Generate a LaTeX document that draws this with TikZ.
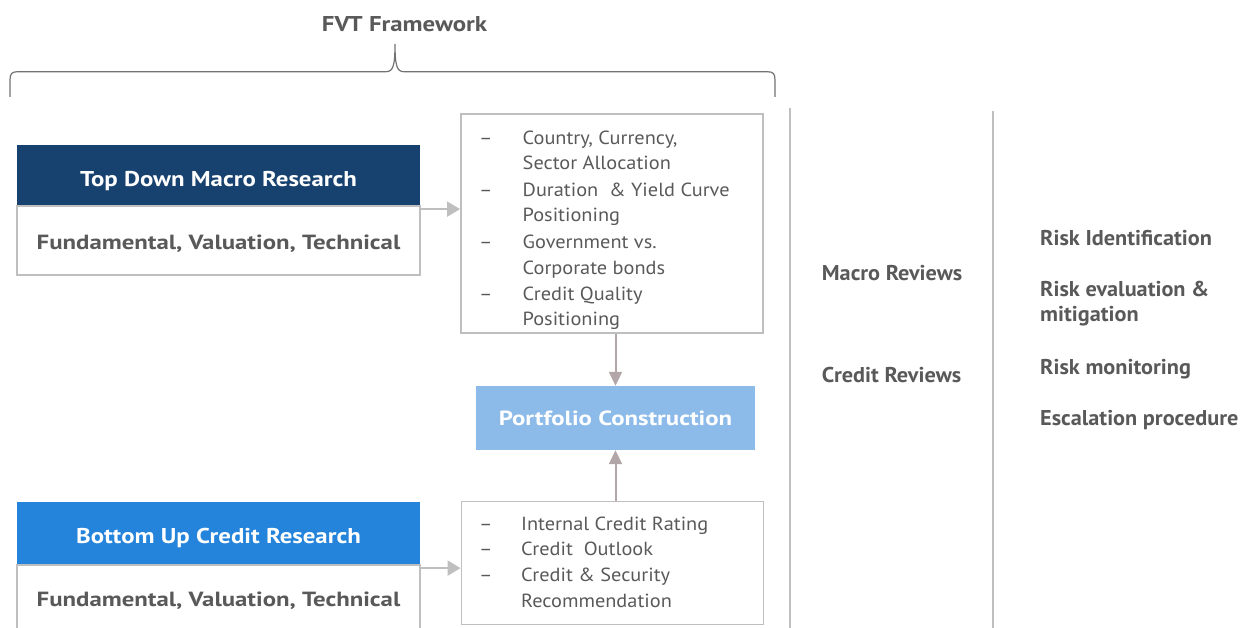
\documentclass[tikz,border=0pt]{standalone}
\usepackage{fontspec}
\setmainfont{PT Sans}
\newfontfamily\fhead[FakeStretch=1.16]{PT Sans}
\newfontfamily\fwide[FakeStretch=1.21]{PT Sans}
\newfontfamily\flist[FakeStretch=1.07]{PT Sans}
\newfontfamily\fside[FakeStretch=1.04]{PT Sans}
\usetikzlibrary{arrows.meta,calc}
\definecolor{txt}{HTML}{595959}
\definecolor{dark}{HTML}{17416E}
\definecolor{mid}{HTML}{2483DA}
\definecolor{light}{HTML}{8CBAE9}
\definecolor{edge}{HTML}{BFBFBF}
\definecolor{rose}{HTML}{B3A6A8}
\tikzset{
  hdr/.style={draw=none,minimum width=403pt,inner sep=0pt},
  htext/.style={anchor=base,text=white,font=\fhead\bfseries\fontsize{21.4}{24}\selectfont,inner sep=0pt},
  wbox/.style={draw=edge,line width=1.8pt,fill=white,minimum width=403pt,inner sep=0pt},
  wtext/.style={anchor=base,text=txt,font=\fwide\bfseries\fontsize{20.5}{24}\selectfont,inner sep=0pt},
  lbox/.style={draw=edge,line width=1.8pt,inner sep=0pt},
  item/.style={anchor=base west,text=txt,font=\flist\fontsize{19}{22}\selectfont,inner sep=0pt},
  side/.style={anchor=base west,text=txt,font=\fside\bfseries\fontsize{21.4}{24}\selectfont,inner sep=0pt},
  garrow/.style={draw=edge,line width=2pt,-{Triangle[length=13pt,width=15pt]}},
  rarrow/.style={draw=rose,line width=2pt,-{Triangle[length=14pt,width=13pt]}},
  vline/.style={draw=edge,line width=2pt},
}
\begin{document}
\begin{tikzpicture}[x=1pt,y=-1pt]
\useasboundingbox (0,0) rectangle (1241,628);
% title and brace
\node[anchor=base,text=txt,font=\fhead\bfseries\fontsize{21.4}{24}\selectfont,inner sep=0pt] (title) at (404.5,31.7) {FVT Framework};
\draw[draw=txt!85,line width=1.2pt] (10,97) -- (10,80) .. controls (10,73.5) and (12,71.7) .. (18,71.7) -- (386,71.7) .. controls (393,71.7) and (395,66) .. (395,44)
  .. controls (395,66) and (397,71.7) .. (404,71.7) -- (767,71.7) .. controls (773,71.7) and (775,73.5) .. (775,80) -- (775,97);
% vertical separators
\coordinate (v1t) at (789.5,108); \coordinate (v1b) at (789.5,628);
\coordinate (v2t) at (993,111.5); \coordinate (v2b) at (993,628);
\draw[vline] (v1t) -- (v1b);
\draw[vline] (v2t) -- (v2b);
% top down
\node[hdr,fill=dark,minimum height=61pt] (tdh) at (218.5,175.5) {};
\node[htext] (tdht) at (218.5,186.7) {Top Down Macro Research};
\node[wbox,minimum height=69pt] (tdw) at (218.5,240.5) {};
\node[wtext] (tdwt) at (218.5,249.3) {Fundamental, Valuation, Technical};
% bottom up
\node[hdr,fill=mid,minimum height=63.5pt] (buh) at (218.5,533.5) {};
\node[htext] (buht) at (218.5,543) {Bottom Up Credit Research};
\node[wbox,minimum height=82pt] (buw) at (218.5,606) {};
\node[wtext] (buwt) at (218.5,606.7) {Fundamental, Valuation, Technical};
% list boxes
\node[lbox,minimum width=302pt,minimum height=219pt] (l1) at (612,223.5) {};
\node[lbox,minimum width=302pt,minimum height=123pt] (l2) at (612.5,563) {};
% portfolio
\node[fill=light,minimum width=279pt,minimum height=64pt,inner sep=0pt] (pc) at (615.5,418) {};
\node[anchor=base,text=white,font=\fwide\bfseries\fontsize{20.5}{24}\selectfont,inner sep=0pt] (pct) at (615.5,425) {Portfolio Construction};
% list 1 items
\foreach \y/\d/\t [count=\i] in {145/1/{Country, Currency,},170/0/{Sector Allocation},196.5/1/{Duration\ \ \& Yield Curve},222/0/{Positioning},248/1/{Government vs.},274/0/{Corporate bonds},300/1/{Credit Quality},325.5/0/{Positioning}}{
  \node[item] (a\i) at (522.5,\y) {\t};
  \ifnum\d=1 \node[item] (ad\i) at (479,\y) {–};\fi
}
\foreach \y/\d/\t [count=\i] in {530/1/{Internal Credit Rating},555.5/1/{Credit\ \ Outlook},581.5/1/{Credit \& Security},607.5/0/{Recommendation}}{
  \node[item] (b\i) at (521,\y) {\t};
  \ifnum\d=1 \node[item] (bd\i) at (479,\y) {–};\fi
}
% side labels
\node[side] (mr) at (821.7,280) {Macro Reviews};
\node[side] (cr) at (821.7,382.7) {Credit Reviews};
\node[side] (r1) at (1040,245) {Risk Identification};
\node[side] (r2) at (1040,296.7) {Risk evaluation \&};
\node[side] (r2b) at (1040,321.7) {mitigation};
\node[side] (r3) at (1040,374) {Risk monitoring};
\node[side] (r4) at (1040,425) {Escalation procedure};
% arrows
\coordinate (c1) at ($(tdw.north east)+(0,4)$);
\draw[garrow] (c1) -- (c1 -| l1.west);
\coordinate (c2) at ($(buw.north east)+(0,4)$);
\draw[garrow] (c2) -- (c2 -| l2.west);
\draw[rarrow] (l1.south -| pc.north) -- (pc.north);
\draw[rarrow] (l2.north -| pc.south) -- (pc.south);
\end{tikzpicture}
\end{document}
